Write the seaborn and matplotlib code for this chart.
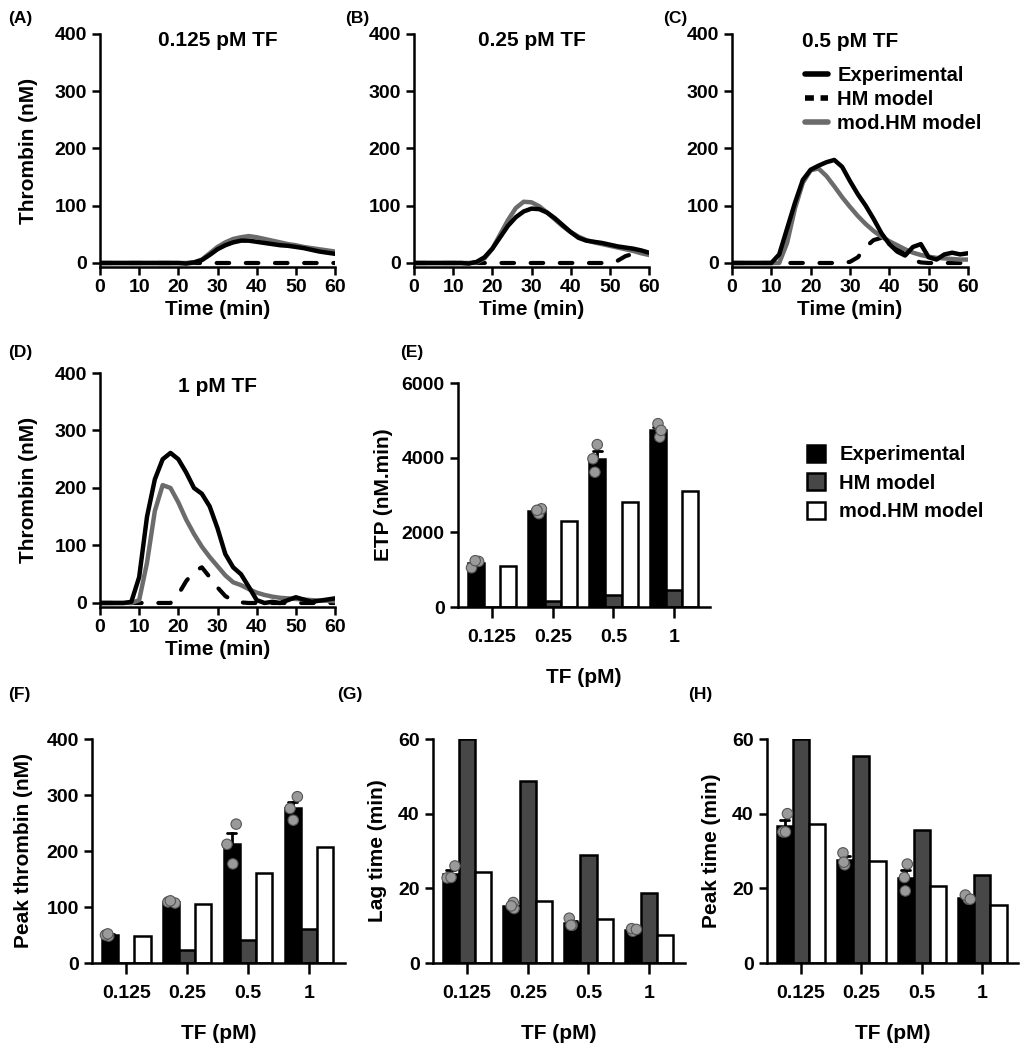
import numpy as np
import pandas as pd
import matplotlib
matplotlib.use("Agg")
import matplotlib.pyplot as plt
from matplotlib.patches import Patch
from matplotlib.lines import Line2D
import seaborn as sns

# ---- thrombin generation curves (read every 2 min) ----
time_min = list(range(0, 61, 2))

exp_0125 = [0, 0, 0, 0, 0, 0, 0, 0, 0, 0, 0, -1, 1, 5, 14, 24, 31, 36, 39, 39, 37, 35, 33, 31, 30, 28, 26, 23, 20, 18, 16]
hm_0125 = [0] * 31
mod_0125 = [0, 0, 0, 0, 0, 0, 0, 0, 0, 0, 0, 0, 1, 6, 17, 28, 36, 42, 45, 47, 45, 42, 39, 36, 33, 31, 28, 26, 24, 22, 20]

exp_025 = [0, 0, 0, 0, 0, 0, 0, -1, 2, 10, 25, 45, 65, 80, 90, 95, 94, 88, 78, 66, 54, 44, 39, 37, 35, 32, 29, 27, 25, 22, 18]
hm_025 = [0, 0, 0, 0, 0, 0, 0, 0, 0, 0, 0, 0, 0, 0, 0, 0, 0, 0, 0, 0, 0, 0, 0, 0, 0, 0, 4, 12, 16, 17, 16]
mod_025 = [0, 0, 0, 0, 0, 0, 0, 0, 1, 8, 25, 50, 75, 96, 107, 106, 99, 88, 76, 64, 54, 46, 40, 36, 33, 30, 27, 24, 21, 17, 14]

exp_05 = [0, 0, 0, 0, 0, 0, 15, 60, 105, 145, 163, 170, 176, 180, 168, 143, 120, 100, 77, 52, 33, 20, 13, 28, 33, 10, 6, 15, 18, 15, 17]
hm_05 = [0, 0, 0, 0, 0, 0, 0, 0, 0, 0, 0, 0, 0, 0, 0, 2, 10, 28, 40, 44, 40, 28, 14, 5, 1, 0, 0, 0, 0, 0, 0]
mod_05 = [0, 0, 0, 0, 0, 0, 0, 35, 95, 140, 162, 165, 152, 134, 115, 98, 82, 68, 56, 46, 38, 31, 24, 18, 14, 11, 9, 8, 7, 6, 6]

exp_1 = [0, 0, 0, 0, 2, 45, 150, 215, 250, 261, 250, 227, 200, 190, 168, 130, 85, 62, 50, 28, 5, 0, 2, 0, 5, 10, 6, 2, 4, 6, 8]
hm_1 = [0, 0, 0, 0, 0, 0, 0, 0, 0, 0, 15, 38, 55, 62, 45, 27, 12, 4, 1, 0, 0, 0, 0, 0, 0, 0, 0, 0, 0, 0, 0]
mod_1 = [0, 0, 0, 0, 0, 5, 70, 160, 205, 200, 175, 145, 120, 98, 80, 64, 48, 36, 31, 24, 18, 14, 11, 9, 8, 7, 6, 5, 4, 4, 3]

curve_titles = ["0.125 pM TF", "0.25 pM TF", "0.5 pM TF", "1 pM TF"]

# ---- bar chart data ----
tf_levels = ["0.125", "0.25", "0.5", "1"]
series = ["Experimental", "HM model", "mod.HM model"]

etp_exp = [[1050, 1220, 1240], [2500, 2630, 2590], [4350, 3970, 3610], [4910, 4550, 4730]]
etp_hm = [0, 150, 330, 450]
etp_mod = [1110, 2310, 2810, 3120]

peak_exp = [[48, 50, 52], [107, 109, 111], [248, 212, 177], [297, 276, 255]]
peak_hm = [0, 23, 41, 61]
peak_mod = [48, 105, 161, 208]

lag_exp = [[26.0, 22.8, 22.9], [14.6, 16.2, 15.3], [12.0, 10.1, 10.1], [8.5, 9.2, 9.0]]
lag_hm = [60, 48.7, 28.8, 18.7]
lag_mod = [24.3, 16.5, 11.7, 7.6]

ptime_exp = [[40.0, 35.1, 35.1], [29.5, 26.3, 27.0], [26.5, 22.9, 19.3], [17.1, 18.2, 17.1]]
ptime_hm = [60, 55.5, 35.5, 23.6]
ptime_mod = [37.3, 27.2, 20.5, 15.6]

# ---- style ----
sns.set_style("ticks")
plt.rcParams['font.family'] = ['Liberation Sans', 'DejaVu Sans']
plt.rcParams['font.weight'] = 'bold'
plt.rcParams['axes.labelweight'] = 'bold'
plt.rcParams['axes.linewidth'] = 1.8
plt.rcParams['xtick.major.width'] = 1.8
plt.rcParams['ytick.major.width'] = 1.8
plt.rcParams['xtick.major.size'] = 6
plt.rcParams['ytick.major.size'] = 6
plt.rcParams['xtick.labelsize'] = 14
plt.rcParams['ytick.labelsize'] = 14
plt.rcParams['axes.labelsize'] = 15
plt.rcParams['xtick.color'] = 'black'
plt.rcParams['ytick.color'] = 'black'
plt.rcParams['axes.edgecolor'] = 'black'
plt.rcParams['axes.labelcolor'] = 'black'
plt.rcParams['text.color'] = 'black'

EXP_C = 'black'
MOD_C = '#6b6b6b'
HM_BAR = '#474747'
DOT_C = '#9a9a9a'

np.random.seed(7)  # strip jitter only

W, H = 1027, 1050
fig = plt.figure(figsize=(W / 100, H / 100), dpi=100)


def px_axes(left, top, right, bottom):
    return fig.add_axes([left / W, 1 - bottom / H, (right - left) / W, (bottom - top) / H])


def curve_panel(ax, exp, hm, mod, title, title_y, ylabel):
    sns.lineplot(x=time_min, y=hm, ax=ax, color='black', lw=3,
                 linestyle=(0, (3, 4)), dash_capstyle='round')
    sns.lineplot(x=time_min, y=mod, ax=ax, color=MOD_C, lw=3.2)
    sns.lineplot(x=time_min, y=exp, ax=ax, color=EXP_C, lw=3.2)
    ax.set_xlim(0, 60)
    ax.set_ylim(-7, 400)
    ax.set_xticks(range(0, 61, 10))
    ax.set_yticks(range(0, 401, 100))
    ax.tick_params(axis='x', pad=2.5)
    ax.set_xlabel("Time (min)", labelpad=3)
    ax.set_ylabel("Thrombin (nM)" if ylabel else "", labelpad=12)
    ax.text(0.5, title_y, title, transform=ax.transAxes, ha='center',
            va='baseline', fontsize=15, fontweight='bold')
    sns.despine(ax=ax)


def bar_panel(ax, exp, hm, mod, ylim, yticks, ylabel, labelpad):
    rows = []
    for i, tf in enumerate(tf_levels):
        for v in exp[i]:
            rows.append((tf, "Experimental", v))
        rows.append((tf, "HM model", hm[i]))
        rows.append((tf, "mod.HM model", mod[i]))
    df = pd.DataFrame(rows, columns=["TF", "series", "value"])
    sns.barplot(data=df, x="TF", y="value", hue="series", order=tf_levels,
                hue_order=series, palette=[EXP_C, HM_BAR, 'white'],
                errorbar='se', capsize=0.45,
                err_kws={'color': 'black', 'linewidth': 2},
                edgecolor='black', linewidth=1.8, width=0.8, saturation=1,
                legend=False, ax=ax)
    sns.stripplot(data=df[df.series == "Experimental"], x="TF", y="value",
                  hue="series", order=tf_levels, hue_order=series, dodge=True,
                  jitter=0.25, palette=[DOT_C] * 3, size=7.5, edgecolor='#555555',
                  linewidth=0.8, legend=False, ax=ax, zorder=5)
    ax.set_xlim(-0.56, 3.59)
    ax.set_ylim(*ylim)
    ax.set_yticks(yticks)
    ax.tick_params(axis='x', length=8, pad=8)
    ax.set_xlabel("TF (pM)", labelpad=16)
    ax.set_ylabel(ylabel, labelpad=labelpad)
    sns.despine(ax=ax)


axA = px_axes(100, 34, 335, 267)
axB = px_axes(414, 34, 649, 267)
axC = px_axes(732, 34, 968, 267)
axD = px_axes(100, 373, 335, 607)
axE = px_axes(458, 383, 710, 607)
axF = px_axes(92, 739, 345, 963)
axG = px_axes(433, 739, 685, 963)
axH = px_axes(767, 739, 1018, 963)

curve_panel(axA, exp_0125, hm_0125, mod_0125, curve_titles[0], 0.95, True)
curve_panel(axB, exp_025, hm_025, mod_025, curve_titles[1], 0.95, False)
curve_panel(axC, exp_05, hm_05, mod_05, curve_titles[2], 0.945, False)
curve_panel(axD, exp_1, hm_1, mod_1, curve_titles[3], 0.92, True)

line_handles = [
    Line2D([], [], color=EXP_C, lw=4),
    Line2D([], [], color='black', lw=4, linestyle=(0, (1.6, 1.2))),
    Line2D([], [], color=MOD_C, lw=4),
]
axC.legend(line_handles, series, loc='upper left', bbox_to_anchor=(795 / W, 1 - 56 / H),
           bbox_transform=fig.transFigure, frameon=False, borderpad=0,
           handlelength=1.15, handletextpad=0.45, labelspacing=0.25,
           prop={'size': 14.5, 'weight': 'bold'})

bar_panel(axE, etp_exp, etp_hm, etp_mod, (0, 6000), range(0, 6001, 2000), "ETP (nM.min)", 6)
bar_panel(axF, peak_exp, peak_hm, peak_mod, (0, 400), range(0, 401, 100), "Peak thrombin (nM)", 10)
bar_panel(axG, lag_exp, lag_hm, lag_mod, (0, 60), range(0, 61, 20), "Lag time (min)", 8)
bar_panel(axH, ptime_exp, ptime_hm, ptime_mod, (0, 60), range(0, 61, 20), "Peak time (min)", 8)

bar_handles = [Patch(facecolor=c, edgecolor='black', linewidth=1.8)
               for c in [EXP_C, HM_BAR, 'white']]
fig.legend(bar_handles, series, loc='upper left', bbox_to_anchor=(797 / W, 1 - 435 / H),
           frameon=False, borderpad=0, handlelength=0.9, handleheight=0.9,
           handletextpad=0.7, labelspacing=0.45, prop={'size': 14.5, 'weight': 'bold'})

panel_labels = [("(A)", 8, 18), ("(B)", 345, 18), ("(C)", 663, 18), ("(D)", 8, 353),
                ("(E)", 400, 353), ("(F)", 8, 695), ("(G)", 337, 695), ("(H)", 688, 695)]
for lab, x, y in panel_labels:
    fig.text(x / W, 1 - y / H, lab, fontsize=12.5, fontweight='bold', va='center', ha='left')

fig.savefig("out.png", dpi=100)
